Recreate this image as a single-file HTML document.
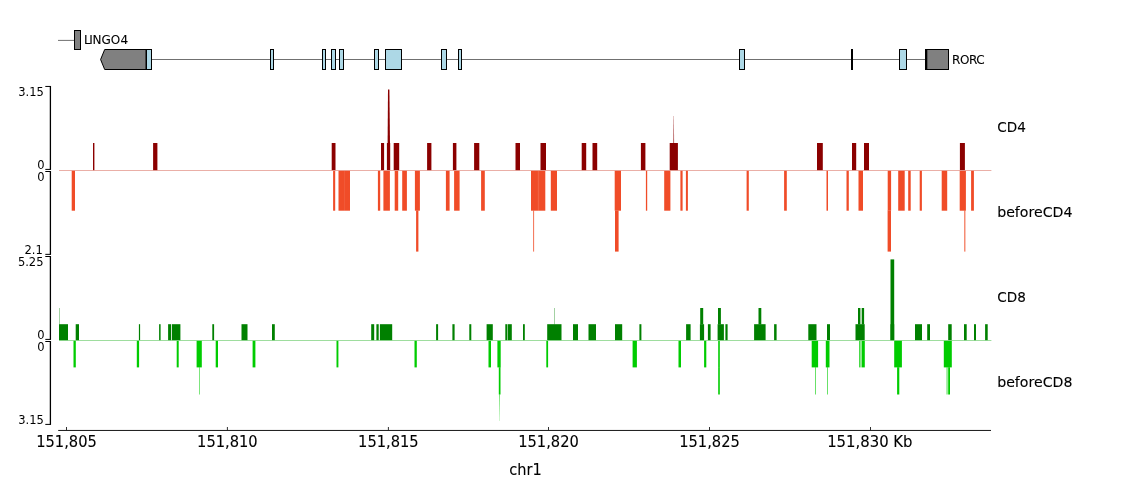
<!DOCTYPE html>
<html lang="en">
<head>
<meta charset="utf-8">
<title>chr1 genome tracks</title>
<style>
html,body{margin:0;padding:0;background:#fff;}
body{width:1133px;height:493px;overflow:hidden;}
svg{display:block;font-family:"DejaVu Sans","Liberation Sans",sans-serif;}
text{stroke:#000;stroke-width:0.1px;}
text.y{stroke:none;}
</style>
</head>
<body>
<svg width="1133" height="493" viewBox="0 0 1133 493">
<rect width="1133" height="493" fill="#fff"/>
<line x1="58.00" y1="40.40" x2="74.40" y2="40.40" stroke="#707070" stroke-width="1"/>
<rect x="74.5" y="30.5" width="6" height="19" fill="#808080" stroke="#000" stroke-width="1"/>
<text x="84.0" y="43.6" font-size="12" dx="0 -1.55 -0.2 0 0 0.25">LINGO4</text>
<line x1="151.00" y1="59.50" x2="926.00" y2="59.50" stroke="#707070" stroke-width="1"/>
<polygon points="100.6,59.5 104.7,49.5 146.0,49.5 146.0,69.5 104.7,69.5" fill="#808080" stroke="#000" stroke-width="1" stroke-linejoin="miter"/>
<rect x="146.5" y="49.5" width="5" height="20" fill="#add8e6" stroke="#000" stroke-width="1"/>
<rect x="270.5" y="49.5" width="3" height="20" fill="#add8e6" stroke="#000" stroke-width="1"/>
<rect x="322.5" y="49.5" width="3" height="20" fill="#add8e6" stroke="#000" stroke-width="1"/>
<rect x="331.5" y="49.5" width="4" height="20" fill="#add8e6" stroke="#000" stroke-width="1"/>
<rect x="339.5" y="49.5" width="4" height="20" fill="#add8e6" stroke="#000" stroke-width="1"/>
<rect x="374.5" y="49.5" width="4" height="20" fill="#add8e6" stroke="#000" stroke-width="1"/>
<rect x="385.5" y="49.5" width="16" height="20" fill="#add8e6" stroke="#000" stroke-width="1"/>
<rect x="441.5" y="49.5" width="5" height="20" fill="#add8e6" stroke="#000" stroke-width="1"/>
<rect x="458.5" y="49.5" width="3" height="20" fill="#add8e6" stroke="#000" stroke-width="1"/>
<rect x="739.5" y="49.5" width="5" height="20" fill="#add8e6" stroke="#000" stroke-width="1"/>
<rect x="899.5" y="49.5" width="7" height="20" fill="#add8e6" stroke="#000" stroke-width="1"/>
<rect x="851.00" y="49.00" width="2.00" height="21.00" fill="#000"/>
<rect x="925.5" y="49.5" width="23" height="20" fill="#808080" stroke="#000" stroke-width="1"/>
<rect x="925.00" y="49.00" width="2.30" height="21.00" fill="#000"/>
<text x="952.00" y="64.20" font-size="12" text-anchor="start" fill="#000" letter-spacing="-0.4">RORC</text>
<line x1="50.40" y1="86.05" x2="50.40" y2="169.75" stroke="#000" stroke-width="1.3"/>
<line x1="45.30" y1="86.45" x2="50.80" y2="86.45" stroke="#000" stroke-width="1"/>
<line x1="45.30" y1="169.40" x2="50.80" y2="169.40" stroke="#000" stroke-width="1"/>
<line x1="50.40" y1="171.10" x2="50.40" y2="254.70" stroke="#000" stroke-width="1.3"/>
<line x1="45.30" y1="171.50" x2="50.80" y2="171.50" stroke="#000" stroke-width="1"/>
<line x1="45.30" y1="254.35" x2="50.80" y2="254.35" stroke="#000" stroke-width="1"/>
<line x1="50.40" y1="256.10" x2="50.40" y2="339.75" stroke="#000" stroke-width="1.3"/>
<line x1="45.30" y1="256.50" x2="50.80" y2="256.50" stroke="#000" stroke-width="1"/>
<line x1="45.30" y1="339.40" x2="50.80" y2="339.40" stroke="#000" stroke-width="1"/>
<line x1="50.40" y1="341.10" x2="50.40" y2="424.75" stroke="#000" stroke-width="1.3"/>
<line x1="45.30" y1="341.50" x2="50.80" y2="341.50" stroke="#000" stroke-width="1"/>
<line x1="45.30" y1="424.40" x2="50.80" y2="424.40" stroke="#000" stroke-width="1"/>
<text class="y" x="43.80" y="96.00" font-size="11.5" text-anchor="end" fill="#000">3.15</text>
<text class="y" x="44.60" y="169.00" font-size="11.5" text-anchor="end" fill="#000">0</text>
<text class="y" x="44.60" y="180.80" font-size="11.5" text-anchor="end" fill="#000">0</text>
<text class="y" x="42.80" y="254.00" font-size="11.5" text-anchor="end" fill="#000">2.1</text>
<text class="y" x="43.50" y="266.00" font-size="11.5" text-anchor="end" fill="#000">5.25</text>
<text class="y" x="44.60" y="338.70" font-size="11.5" text-anchor="end" fill="#000">0</text>
<text class="y" x="44.60" y="351.00" font-size="11.5" text-anchor="end" fill="#000">0</text>
<text class="y" x="43.80" y="424.00" font-size="11.5" text-anchor="end" fill="#000">3.15</text>
<text transform="translate(997.20 132.40) scale(0.972 1)" font-size="14" text-anchor="start" fill="#000">CD4</text>
<text transform="translate(997.20 217.20) scale(1.01 1)" font-size="14" text-anchor="start" fill="#000">beforeCD4</text>
<text transform="translate(997.20 302.00) scale(0.972 1)" font-size="14" text-anchor="start" fill="#000">CD8</text>
<text transform="translate(997.20 387.00) scale(1.01 1)" font-size="14" text-anchor="start" fill="#000">beforeCD8</text>
<rect x="93.00" y="143.00" width="1.40" height="27.50" fill="#8b0000"/>
<rect x="153.10" y="143.00" width="4.30" height="27.50" fill="#8b0000"/>
<rect x="331.70" y="143.00" width="3.80" height="27.50" fill="#8b0000"/>
<rect x="381.00" y="143.00" width="3.10" height="27.50" fill="#8b0000"/>
<rect x="386.90" y="143.00" width="3.30" height="27.50" fill="#8b0000"/>
<rect x="393.70" y="143.00" width="5.50" height="27.50" fill="#8b0000"/>
<rect x="427.10" y="143.00" width="4.30" height="27.50" fill="#8b0000"/>
<rect x="452.90" y="143.00" width="3.50" height="27.50" fill="#8b0000"/>
<rect x="474.10" y="143.00" width="5.20" height="27.50" fill="#8b0000"/>
<rect x="515.50" y="143.00" width="4.50" height="27.50" fill="#8b0000"/>
<rect x="540.50" y="143.00" width="5.50" height="27.50" fill="#8b0000"/>
<rect x="581.70" y="143.00" width="4.50" height="27.50" fill="#8b0000"/>
<rect x="592.50" y="143.00" width="4.70" height="27.50" fill="#8b0000"/>
<rect x="640.90" y="143.00" width="4.50" height="27.50" fill="#8b0000"/>
<rect x="669.70" y="143.00" width="8.20" height="27.50" fill="#8b0000"/>
<rect x="817.00" y="143.00" width="5.80" height="27.50" fill="#8b0000"/>
<rect x="852.00" y="143.00" width="4.20" height="27.50" fill="#8b0000"/>
<rect x="864.00" y="143.00" width="5.00" height="27.50" fill="#8b0000"/>
<rect x="959.90" y="143.00" width="5.00" height="27.50" fill="#8b0000"/>
<polygon points="388.0,89.5 389.4,89.5 390.0,143.5 387.6,143.5" fill="#8b0000"/>
<polygon points="673.45,116 673.8,116 674.15,143.5 673.1,143.5" fill="#8b0000" fill-opacity="0.6"/>
<rect x="71.70" y="170.50" width="3.30" height="40.20" fill="#f04c28"/>
<rect x="333.10" y="170.50" width="2.10" height="40.20" fill="#f04c28"/>
<rect x="338.50" y="170.50" width="11.50" height="40.20" fill="#f04c28"/>
<rect x="377.90" y="170.50" width="2.30" height="40.20" fill="#f04c28"/>
<rect x="383.40" y="170.50" width="6.50" height="40.20" fill="#f04c28"/>
<rect x="394.70" y="170.50" width="3.50" height="40.20" fill="#f04c28"/>
<rect x="402.20" y="170.50" width="4.70" height="40.20" fill="#f04c28"/>
<rect x="414.90" y="170.50" width="5.00" height="40.20" fill="#f04c28"/>
<rect x="445.90" y="170.50" width="3.70" height="40.20" fill="#f04c28"/>
<rect x="454.10" y="170.50" width="5.50" height="40.20" fill="#f04c28"/>
<rect x="481.10" y="170.50" width="3.70" height="40.20" fill="#f04c28"/>
<rect x="531.00" y="170.50" width="14.30" height="40.20" fill="#f04c28"/>
<rect x="550.80" y="170.50" width="6.20" height="40.20" fill="#f04c28"/>
<rect x="614.70" y="170.50" width="6.30" height="40.20" fill="#f04c28"/>
<rect x="645.90" y="170.50" width="1.30" height="40.20" fill="#f04c28"/>
<rect x="664.20" y="170.50" width="6.20" height="40.20" fill="#f04c28"/>
<rect x="680.40" y="170.50" width="2.20" height="40.20" fill="#f04c28"/>
<rect x="685.90" y="170.50" width="2.00" height="40.20" fill="#f04c28"/>
<rect x="746.60" y="170.50" width="2.20" height="40.20" fill="#f04c28"/>
<rect x="784.10" y="170.50" width="2.70" height="40.20" fill="#f04c28"/>
<rect x="826.50" y="170.50" width="1.50" height="40.20" fill="#f04c28"/>
<rect x="846.50" y="170.50" width="2.30" height="40.20" fill="#f04c28"/>
<rect x="858.50" y="170.50" width="4.50" height="40.20" fill="#f04c28"/>
<rect x="887.70" y="170.50" width="3.40" height="40.20" fill="#f04c28"/>
<rect x="898.20" y="170.50" width="6.50" height="40.20" fill="#f04c28"/>
<rect x="908.20" y="170.50" width="2.50" height="40.20" fill="#f04c28"/>
<rect x="919.70" y="170.50" width="2.20" height="40.20" fill="#f04c28"/>
<rect x="941.70" y="170.50" width="5.50" height="40.20" fill="#f04c28"/>
<rect x="959.70" y="170.50" width="6.20" height="40.20" fill="#f04c28"/>
<rect x="971.10" y="170.50" width="2.80" height="40.20" fill="#f04c28"/>
<rect x="416.10" y="210.50" width="2.30" height="41.10" fill="#f04c28"/>
<rect x="615.00" y="210.50" width="3.60" height="41.10" fill="#f04c28"/>
<rect x="887.60" y="210.50" width="3.40" height="41.10" fill="#f04c28"/>
<rect x="533.10" y="210.50" width="1.00" height="41.10" fill="#f04c28" fill-opacity="0.8"/>
<rect x="964.20" y="210.50" width="1.20" height="41.10" fill="#f04c28" fill-opacity="0.8"/>
<rect x="537.80" y="170.50" width="1.40" height="40.20" fill="#fff" fill-opacity="0.13"/>
<rect x="344.40" y="171.00" width="0.50" height="39.70" fill="#fff" fill-opacity="0.15"/>
<line x1="59.00" y1="170.50" x2="991.40" y2="170.50" stroke="#e59a90" stroke-width="0.8"/>
<rect x="59.00" y="324.20" width="9.00" height="16.30" fill="#008000"/>
<rect x="75.70" y="324.20" width="3.30" height="16.30" fill="#008000"/>
<rect x="138.90" y="324.20" width="1.20" height="16.30" fill="#008000"/>
<rect x="159.10" y="324.20" width="1.50" height="16.30" fill="#008000"/>
<rect x="168.10" y="324.20" width="3.00" height="16.30" fill="#008000"/>
<rect x="171.90" y="324.20" width="8.50" height="16.30" fill="#008000"/>
<rect x="212.30" y="324.20" width="1.80" height="16.30" fill="#008000"/>
<rect x="241.50" y="324.20" width="6.00" height="16.30" fill="#008000"/>
<rect x="272.00" y="324.20" width="2.80" height="16.30" fill="#008000"/>
<rect x="371.20" y="324.20" width="3.00" height="16.30" fill="#008000"/>
<rect x="376.40" y="324.20" width="2.30" height="16.30" fill="#008000"/>
<rect x="379.90" y="324.20" width="12.30" height="16.30" fill="#008000"/>
<rect x="436.10" y="324.20" width="2.00" height="16.30" fill="#008000"/>
<rect x="452.40" y="324.20" width="2.20" height="16.30" fill="#008000"/>
<rect x="469.30" y="324.20" width="2.00" height="16.30" fill="#008000"/>
<rect x="486.60" y="324.20" width="6.20" height="16.30" fill="#008000"/>
<rect x="505.30" y="324.20" width="1.80" height="16.30" fill="#008000"/>
<rect x="507.60" y="324.20" width="4.20" height="16.30" fill="#008000"/>
<rect x="523.00" y="324.20" width="1.80" height="16.30" fill="#008000"/>
<rect x="547.20" y="324.20" width="14.30" height="16.30" fill="#008000"/>
<rect x="573.00" y="324.20" width="5.00" height="16.30" fill="#008000"/>
<rect x="588.50" y="324.20" width="7.50" height="16.30" fill="#008000"/>
<rect x="615.00" y="324.20" width="7.20" height="16.30" fill="#008000"/>
<rect x="639.40" y="324.20" width="2.00" height="16.30" fill="#008000"/>
<rect x="686.10" y="324.20" width="4.50" height="16.30" fill="#008000"/>
<rect x="699.90" y="324.20" width="4.20" height="16.30" fill="#008000"/>
<rect x="707.90" y="324.20" width="2.70" height="16.30" fill="#008000"/>
<rect x="717.60" y="324.20" width="6.30" height="16.30" fill="#008000"/>
<rect x="725.40" y="324.20" width="2.20" height="16.30" fill="#008000"/>
<rect x="754.10" y="324.20" width="11.50" height="16.30" fill="#008000"/>
<rect x="774.10" y="324.20" width="2.50" height="16.30" fill="#008000"/>
<rect x="808.30" y="324.20" width="8.20" height="16.30" fill="#008000"/>
<rect x="827.00" y="324.20" width="3.00" height="16.30" fill="#008000"/>
<rect x="855.50" y="324.20" width="9.20" height="16.30" fill="#008000"/>
<rect x="890.50" y="324.20" width="3.70" height="16.30" fill="#008000"/>
<rect x="915.00" y="324.20" width="7.00" height="16.30" fill="#008000"/>
<rect x="927.20" y="324.20" width="2.80" height="16.30" fill="#008000"/>
<rect x="948.20" y="324.20" width="3.50" height="16.30" fill="#008000"/>
<rect x="964.00" y="324.20" width="2.70" height="16.30" fill="#008000"/>
<rect x="974.00" y="324.20" width="2.00" height="16.30" fill="#008000"/>
<rect x="985.10" y="324.20" width="2.60" height="16.30" fill="#008000"/>
<rect x="700.20" y="308.00" width="3.00" height="16.50" fill="#008000"/>
<rect x="718.00" y="308.00" width="2.90" height="16.50" fill="#008000"/>
<rect x="758.50" y="308.00" width="2.80" height="16.50" fill="#008000"/>
<rect x="858.00" y="308.00" width="2.40" height="16.50" fill="#008000"/>
<rect x="861.70" y="308.00" width="2.40" height="16.50" fill="#008000"/>
<rect x="59.10" y="308.00" width="0.60" height="16.50" fill="#008000" fill-opacity="0.6"/>
<rect x="554.20" y="308.00" width="0.60" height="16.50" fill="#008000" fill-opacity="0.6"/>
<rect x="890.50" y="259.40" width="3.70" height="81.10" fill="#008000"/>
<rect x="73.50" y="340.50" width="2.30" height="26.90" fill="#00cc00"/>
<rect x="136.80" y="340.50" width="2.30" height="26.90" fill="#00cc00"/>
<rect x="176.70" y="340.50" width="2.00" height="26.90" fill="#00cc00"/>
<rect x="196.60" y="340.50" width="5.20" height="26.90" fill="#00cc00"/>
<rect x="215.70" y="340.50" width="2.30" height="26.90" fill="#00cc00"/>
<rect x="252.60" y="340.50" width="2.80" height="26.90" fill="#00cc00"/>
<rect x="336.50" y="340.50" width="1.90" height="26.90" fill="#00cc00"/>
<rect x="414.50" y="340.50" width="2.30" height="26.90" fill="#00cc00"/>
<rect x="488.50" y="340.50" width="2.50" height="26.90" fill="#00cc00"/>
<rect x="497.40" y="340.50" width="3.30" height="26.90" fill="#00cc00"/>
<rect x="546.30" y="340.50" width="1.80" height="26.90" fill="#00cc00"/>
<rect x="632.60" y="340.50" width="4.30" height="26.90" fill="#00cc00"/>
<rect x="678.50" y="340.50" width="2.50" height="26.90" fill="#00cc00"/>
<rect x="704.10" y="340.50" width="2.20" height="26.90" fill="#00cc00"/>
<rect x="718.20" y="340.50" width="1.60" height="26.90" fill="#00cc00"/>
<rect x="811.70" y="340.50" width="6.40" height="26.90" fill="#00cc00"/>
<rect x="825.80" y="340.50" width="3.70" height="26.90" fill="#00cc00"/>
<rect x="861.70" y="340.50" width="3.10" height="26.90" fill="#00cc00"/>
<rect x="894.20" y="340.50" width="7.70" height="26.90" fill="#00cc00"/>
<rect x="943.80" y="340.50" width="8.00" height="26.90" fill="#00cc00"/>
<rect x="498.80" y="367.20" width="1.70" height="27.30" fill="#00cc00"/>
<rect x="718.20" y="367.20" width="1.60" height="27.30" fill="#00cc00"/>
<rect x="897.10" y="367.20" width="2.20" height="27.30" fill="#00cc00"/>
<rect x="948.20" y="367.20" width="1.80" height="27.30" fill="#00cc00"/>
<rect x="946.20" y="367.20" width="2.00" height="27.30" fill="#00cc00" fill-opacity="0.4"/>
<rect x="859.10" y="340.50" width="1.30" height="26.90" fill="#00cc00" fill-opacity="0.8"/>
<rect x="860.40" y="340.50" width="1.30" height="26.90" fill="#00cc00" fill-opacity="0.3"/>
<rect x="199.00" y="367.20" width="0.60" height="27.30" fill="#00cc00" fill-opacity="0.85"/>
<rect x="815.10" y="367.20" width="0.70" height="27.30" fill="#00cc00" fill-opacity="0.85"/>
<rect x="827.20" y="367.20" width="0.70" height="27.30" fill="#00cc00" fill-opacity="0.85"/>
<polygon points="499.0,394.3 499.9,394.3 499.6,421 499.35,421" fill="#00cc00" fill-opacity="0.6"/>
<line x1="59.00" y1="340.50" x2="991.40" y2="340.50" stroke="#85d485" stroke-width="0.8"/>
<line x1="58.20" y1="430.45" x2="991.00" y2="430.45" stroke="#161616" stroke-width="1"/>
<line x1="66.50" y1="427.00" x2="66.50" y2="430.30" stroke="#1a1a1a" stroke-width="0.9"/>
<text transform="translate(66.50 447.20) scale(0.958 1)" font-size="15.3" text-anchor="middle" fill="#000">151,805</text>
<line x1="227.40" y1="427.00" x2="227.40" y2="430.30" stroke="#1a1a1a" stroke-width="0.9"/>
<text transform="translate(227.40 447.20) scale(0.958 1)" font-size="15.3" text-anchor="middle" fill="#000">151,810</text>
<line x1="388.40" y1="427.00" x2="388.40" y2="430.30" stroke="#1a1a1a" stroke-width="0.9"/>
<text transform="translate(388.40 447.20) scale(0.958 1)" font-size="15.3" text-anchor="middle" fill="#000">151,815</text>
<line x1="548.50" y1="427.00" x2="548.50" y2="430.30" stroke="#1a1a1a" stroke-width="0.9"/>
<text transform="translate(548.50 447.20) scale(0.958 1)" font-size="15.3" text-anchor="middle" fill="#000">151,820</text>
<line x1="709.50" y1="427.00" x2="709.50" y2="430.30" stroke="#1a1a1a" stroke-width="0.9"/>
<text transform="translate(709.50 447.20) scale(0.958 1)" font-size="15.3" text-anchor="middle" fill="#000">151,825</text>
<line x1="870.50" y1="427.00" x2="870.50" y2="430.30" stroke="#1a1a1a" stroke-width="0.9"/>
<text transform="translate(869.85 447.20) scale(0.973 1)" font-size="15.3" text-anchor="middle" fill="#000">151,830 Kb</text>
<text transform="translate(525.40 475.00) scale(0.952 1)" font-size="15.3" text-anchor="middle" fill="#000">chr1</text>
</svg>
</body>
</html>
